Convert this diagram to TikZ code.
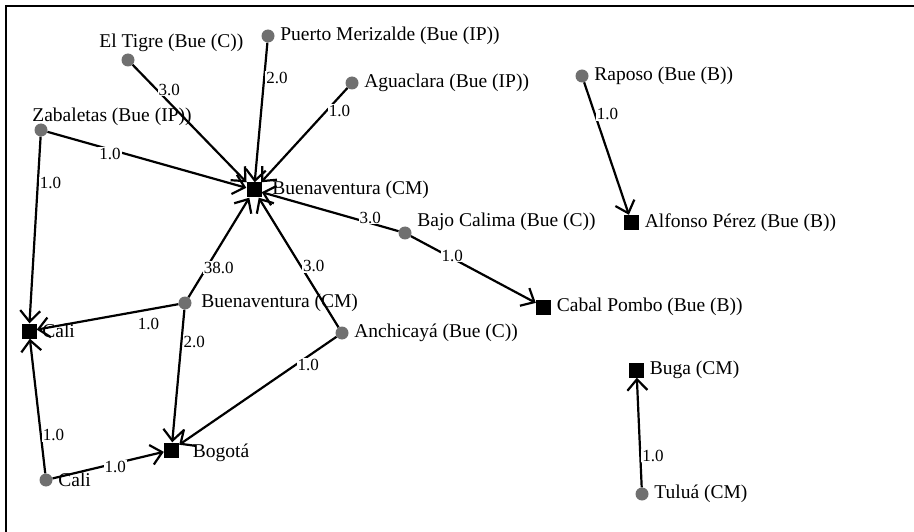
\documentclass[tikz,border=0pt]{standalone}
\usepackage{fontspec}
\setmainfont{Liberation Serif}
\usetikzlibrary{arrows.meta}

\definecolor{dotgray}{RGB}{112,112,112}
\newcommand{\placefont}{\fontsize{19.5}{21}\selectfont}
\newcommand{\wtfont}{\fontsize{17}{19}\selectfont}

\begin{document}
\begin{tikzpicture}[x=1pt, y=-1pt,
  placedot/.style={circle, fill=dotgray, inner sep=0pt, minimum size=13pt},
  placesq/.style={rectangle, fill=black, inner sep=0pt, minimum size=15pt},
  every label/.style={font=\placefont, inner sep=1pt},
  label distance=4.5pt,
  wt/.style={fill=white, inner sep=1pt, font=\wtfont},
  flow/.style={-{Straight Barb[length=11pt, width=20pt]}, line width=2.2pt}]

\useasboundingbox (0,0) rectangle (914,532);

% frame, only top and left edges
\draw[line width=2.4pt] (6,532) -- (6,6) -- (914,6);

% places
\node (hub) [placesq, label={[xshift=5pt]right:Buenaventura (CM)}] at (254,190) {};
\node (elTigre) [placedot, label={[xshift=-41pt, yshift=17pt]right:El Tigre (Bue (C))}] at (128,60) {};
\node (puerto) [placedot, label=right:Puerto Merizalde (Bue (IP))] at (268,36) {};
\node (aguaclara) [placedot, label=right:Aguaclara (Bue (IP))] at (352,83) {};
\node (zabaletas) [placedot, label={[xshift=-21pt, yshift=13pt]right:Zabaletas (Bue (IP))}] at (41,130) {};
\node (bajo) [placedot, label={[yshift=11pt]right:Bajo Calima (Bue (C))}] at (405,233) {};
\node (raposo) [placedot, label=right:Raposo (Bue (B))] at (582,76) {};
\node (alfonso) [placesq, label=right:Alfonso Pérez (Bue (B))] at (631.5,222.5) {};
\node (cabal) [placesq, label=right:Cabal Pombo (Bue (B))] at (543.5,307) {};
\node (buenDot) [placedot, label={[xshift=4pt]right:Buenaventura (CM)}] at (185,303) {};
\node (caliSq) [placesq, label=right:Cali] at (29,331) {};
\node (anchi) [placedot, label=right:Anchicayá (Bue (C))] at (342,333) {};
\node (bogota) [placesq, label={[xshift=8pt, yshift=-3pt]right:Bogotá}] at (171.5,450) {};
\node (caliDot) [placedot, label=right:Cali] at (46,480) {};
\node (buga) [placesq, label=right:Buga (CM)] at (636.5,370) {};
\node (tulua) [placedot, label=right:Tuluá (CM)] at (642,494) {};

% flows with weights
\draw[flow] (elTigre) -- node[wt, pos=.21, anchor=west] {3.0} (hub);
\draw[flow] (puerto) -- node[wt, pos=.25, anchor=west] {2.0} (hub);
\draw[flow] (aguaclara) -- node[wt, pos=.24, anchor=west] {1.0} (hub);
\draw[flow] (zabaletas) -- node[wt, pos=.25, anchor=north west] {1.0} (hub);
\draw[flow] (zabaletas) -- node[wt, pos=.25, anchor=west] {1.0} (caliSq);
\draw[flow] (bajo) -- node[wt, pos=.3, anchor=west, yshift=2pt] {3.0} (hub);
\draw[flow] (bajo) -- node[wt, pos=.23, anchor=west, yshift=-4pt] {1.0} (cabal);
\draw[flow] (raposo) -- node[wt, pos=.24, anchor=west] {1.0} (alfonso);
\draw[flow] (buenDot) -- node[wt, pos=.22, anchor=south west] {38.0} (hub);
\draw[flow] (anchi) -- node[wt, pos=.47, anchor=west] {3.0} (hub);
\draw[flow] (buenDot) -- node[wt, pos=.3, anchor=north west, yshift=-4pt] {1.0} (caliSq);
\draw[flow] (buenDot) -- node[wt, pos=.24, anchor=west] {2.0} (bogota);
\draw[flow] (anchi) -- node[wt, pos=.26, anchor=west] {1.0} (bogota);
\draw[flow] (caliDot) -- node[wt, pos=.285, anchor=west] {1.0} (caliSq);
\draw[flow] (caliDot) -- node[wt, pos=.45, anchor=west] {1.0} (bogota);
\draw[flow] (tulua) -- node[wt, pos=.29, anchor=west] {1.0} (buga);

\end{tikzpicture}
\end{document}
